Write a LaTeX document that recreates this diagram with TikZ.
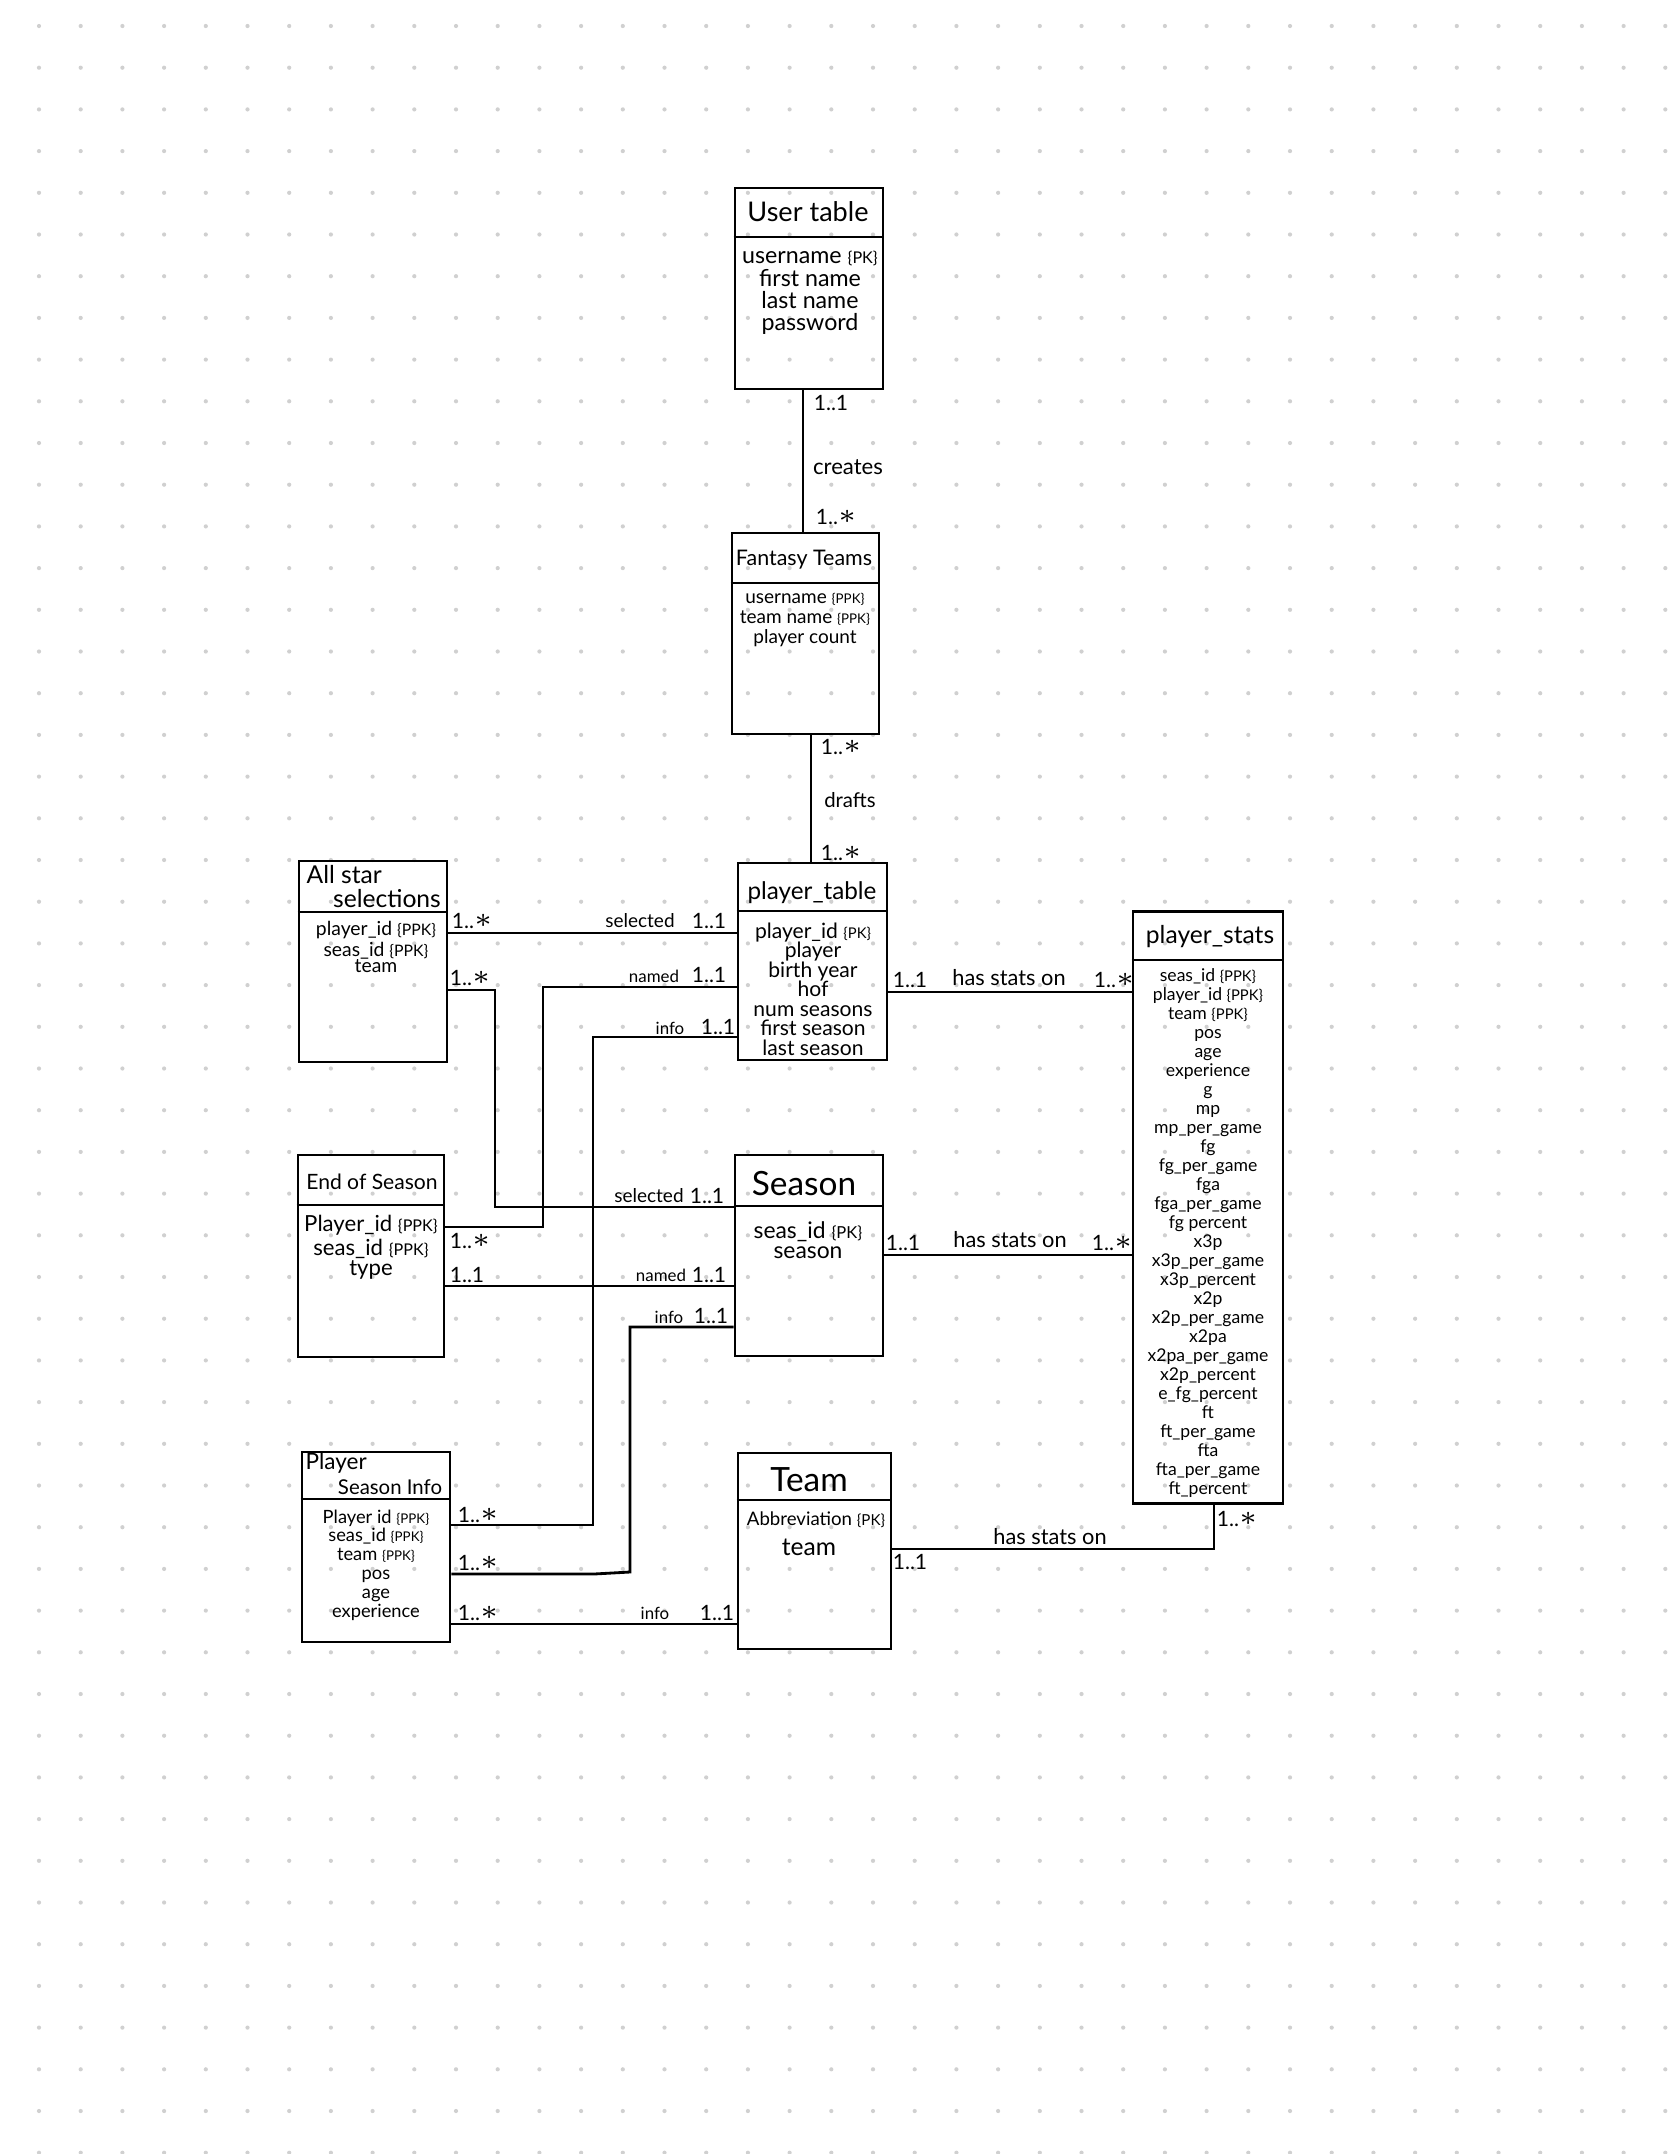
\documentclass[tikz,border=0pt]{standalone}
\usepackage{fontspec}
\setmainfont{Lato}
\newcommand\myfs[2]{\fontsize{#1}{#2}\selectfont}
\def\ksz{4}
\newcommand\kk[1]{{\fontsize{\ksz}{\ksz}\selectfont\{#1\}}}
\newcommand\st{\raisebox{0.05ex}{\scalebox{1.35}{$\ast$}}}
\definecolor{dotc}{RGB}{208,208,208}
\begin{document}
\begin{tikzpicture}[x=0.01cm,y=-0.01cm,
  ebox/.style={draw, line width=0.8pt, inner sep=0pt, rectangle},
  conn/.style={line width=0.8pt},
  txt/.style={inner sep=0pt, align=center},
  mult/.style={inner sep=0pt, font=\myfs{6}{6}},
  verb/.style={inner sep=0pt, font=\myfs{5.4}{6}}]
\useasboundingbox (0,0) rectangle (1668,2154);
\fill[white] (0,0) rectangle (1668,2154);
\foreach \i in {0,...,39}{\foreach \j in {0,...,51}{\fill[dotc] ({39+41.7*\i},{26+41.7*\j}) circle[radius=0.021cm];}}

% entity boxes
\node[ebox, minimum width=1.48cm, minimum height=2.01cm] (user) at (809,288.5) {};
\node[ebox, minimum width=1.47cm, minimum height=2.01cm] (fantasy) at (805.5,633.5) {};
\node[ebox, minimum width=1.49cm, minimum height=1.97cm] (ptab) at (812.5,961.5) {};
\node[ebox, minimum width=1.48cm, minimum height=2.01cm] (allstar) at (373,961.5) {};
\node[ebox, minimum width=1.46cm, minimum height=2.02cm] (eos) at (371,1256) {};
\node[ebox, minimum width=1.48cm, minimum height=2.01cm] (season) at (809,1255.5) {};
\node[ebox, minimum width=1.48cm, minimum height=1.90cm] (psi) at (376,1547) {};
\node[ebox, minimum width=1.53cm, minimum height=1.96cm] (team) at (814.5,1551) {};
\node[ebox, minimum width=1.50cm, minimum height=5.91cm] (pstats) at (1208,1207.5) {};

% header dividers
\draw[conn] (user.west |- 0,237) -- (user.east |- 0,237);
\draw[conn] (fantasy.west |- 0,583) -- (fantasy.east |- 0,583);
\draw[conn] (ptab.west |- 0,911) -- (ptab.east |- 0,911);
\draw[conn] (allstar.west |- 0,912) -- (allstar.east |- 0,912);
\draw[conn] (eos.west |- 0,1205) -- (eos.east |- 0,1205);
\draw[conn] (season.west |- 0,1206) -- (season.east |- 0,1206);
\draw[conn] (psi.west |- 0,1499) -- (psi.east |- 0,1499);
\draw[conn] (team.west |- 0,1500) -- (team.east |- 0,1500);
\draw[conn] (pstats.west |- 0,960) -- (pstats.east |- 0,960);

% texts
\node[txt, font=\myfs{7.7}{8}] (userh) at (808,212) {User table};
\node[txt, font={\myfs{6.6}{6.35}\def\ksz{4.6}}] (usera) at (810,293) {username \kk{PK}\\first name\\last name\\password};

\node[txt, font=\myfs{6.1}{6}] (fanth) at (804,560) {Fantasy Teams};
\node[txt, font={\myfs{5.4}{5.7}\def\ksz{3.8}}] (fanta) at (805,620) {username \kk{PPK}\\team name \kk{PPK}\\player count};

\node[txt, font=\myfs{6.9}{7}] (ptabh) at (812,893) {player\_table};
\node[txt, font={\myfs{6}{5.55}\def\ksz{4.2}}] (ptaba) at (813,989) {player\_id \kk{PK}\\player\\birth year\\hof\\num seasons\\first season\\last season};

\node[txt, anchor=west, font=\myfs{7}{7}] (ash1) at (306,875) {All star};
\node[txt, font=\myfs{7}{7}] (ash2) at (387,899) {selections};
\node[txt, font={\myfs{5.5}{4.6}\def\ksz{4.5}}] (asa) at (376,947) {player\_id \kk{PPK}\\seas\_id \kk{PPK}\\team};

\node[txt, font=\myfs{6}{6}] (eosh) at (372,1182) {End of Season};
\node[txt, font={\myfs{6.3}{5.7}\def\ksz{4.6}}] (eosa) at (371,1247) {Player\_id \kk{PPK}\\seas\_id \kk{PPK}\\type};

\node[txt, font=\myfs{9.5}{9.5}] (seash) at (804,1184) {Season};
\node[txt, font={\myfs{6.5}{5.7}\def\ksz{4.7}}] (seasa) at (808,1240) {seas\_id \kk{PK}\\season};

\node[txt, anchor=west, font=\myfs{6.4}{6.4}] (psih1) at (305,1463) {Player};
\node[txt, font=\myfs{5.8}{5.8}] (psih2) at (390,1487) {Season Info};
\node[txt, font={\myfs{5.2}{5.35}\def\ksz{3.8}}] (psia) at (376,1565) {Player id \kk{PPK}\\seas\_id \kk{PPK}\\team \kk{PPK}\\pos\\age\\experience};

\node[txt, font=\myfs{9.5}{9.5}] (teamh) at (809,1480) {Team};
\node[txt, font={\myfs{5.3}{5.3}\def\ksz{4.3}}] (teama1) at (816,1520) {Abbreviation \kk{PK}};
\node[txt, font=\myfs{7}{7}] (teama2) at (809,1547) {team};

\node[txt, font=\myfs{7}{7}] (psth) at (1210,937) {player\_stats};
\node[txt, font={\myfs{5}{5.4}\def\ksz{4.2}}] (psta) at (1208,1233) {seas\_id \kk{PPK}\\player\_id \kk{PPK}\\team \kk{PPK}\\pos\\age\\experience\\g\\mp\\mp\_per\_game\\fg\\fg\_per\_game\\fga\\fga\_per\_game\\fg percent\\x3p\\x3p\_per\_game\\x3p\_percent\\x2p\\x2p\_per\_game\\x2pa\\x2pa\_per\_game\\x2p\_percent\\e\_fg\_percent\\ft\\ft\_per\_game\\fta\\fta\_per\_game\\ft\_percent};

% connectors
\draw[conn] (user.south -| 803,0) -- (fantasy.north -| 803,0);
\draw[conn] (fantasy.south -| 811,0) -- (ptab.north -| 811,0);
\draw[conn] (allstar.east |- 0,933) -- (ptab.west |- 0,933);
\draw[conn] (allstar.east |- 0,990) -- (495,990) -- (495,1207) -- (season.west |- 0,1207);
\draw[conn] (ptab.west |- 0,987) -- (543,987) -- (543,1227) -- (eos.east |- 0,1227);
\draw[conn] (ptab.west |- 0,1037) -- (593,1037) -- (593,1525) -- (psi.east |- 0,1525);
\draw[conn] (eos.east |- 0,1286) -- (season.west |- 0,1286);
\draw[conn] (season.west |- 0,1327) -- (630,1327) -- (630,1572) -- (594,1574) -- (psi.east |- 0,1574);
\draw[conn] (psi.east |- 0,1624) -- (team.west |- 0,1624);
\draw[conn] (ptab.east |- 0,992) -- (pstats.west |- 0,992);
\draw[conn] (season.east |- 0,1255) -- (pstats.west |- 0,1255);
\draw[conn] (team.east |- 0,1549) -- (1214,1549) -- (pstats.south -| 1214,0);

% labels
\node[mult] (m1a) at (831,403) {1..1};
\node[verb, font=\myfs{6.3}{6}] (v1) at (848,467) {creates};
\node[mult] (m1b) at (836,517) {1..\st};
\node[mult] (m2a) at (841,747) {1..\st};
\node[verb, font=\myfs{5.8}{6}] (v2) at (850,800) {drafts};
\node[mult] (m2b) at (841,853) {1..\st};
\node[mult] (m3a) at (472,921) {1..\st};
\node[verb] (v3) at (640,921) {selected};
\node[mult] (m3b) at (709,921) {1..1};
\node[mult] (m4a) at (470,978) {1..\st};
\node[verb] (v4) at (649,1196) {selected};
\node[mult] (m4b) at (707,1196) {1..1};
\node[verb, font=\myfs{4.8}{6}] (v5) at (654,976) {named};
\node[mult] (m5a) at (709,975) {1..1};
\node[mult] (m5b) at (470,1241) {1..\st};
\node[verb, font=\myfs{4.8}{6}] (v6) at (670,1028) {info};
\node[mult] (m6a) at (718,1027) {1..1};
\node[mult] (m6b) at (478,1515) {1..\st};
\node[mult] (m7a) at (467,1275) {1..1};
\node[verb, font=\myfs{4.8}{6}] (v7) at (661,1275) {named};
\node[mult] (m7b) at (709,1275) {1..1};
\node[verb, font=\myfs{4.8}{6}] (v8) at (669,1317) {info};
\node[mult] (m8a) at (711,1316) {1..1};
\node[mult] (m8b) at (478,1563) {1..\st};
\node[mult] (m9a) at (478,1613) {1..\st};
\node[verb, font=\myfs{4.8}{6}] (v9) at (655,1613) {info};
\node[mult] (m9b) at (717,1613) {1..1};
\node[mult] (m10a) at (910,980) {1..1};
\node[verb, font=\myfs{6.2}{6}] (v10) at (1009,978) {has stats on};
\node[mult] (m10b) at (1114,980) {1..\st};
\node[mult] (m11a) at (903,1243) {1..1};
\node[verb, font=\myfs{6.2}{6}] (v11) at (1010,1240) {has stats on};
\node[mult] (m11b) at (1112,1243) {1..\st};
\node[verb, font=\myfs{6.2}{6}] (v12) at (1050,1537) {has stats on};
\node[mult] (m12a) at (910,1562) {1..1};
\node[mult] (m12b) at (1237,1519) {1..\st};
\end{tikzpicture}
\end{document}
